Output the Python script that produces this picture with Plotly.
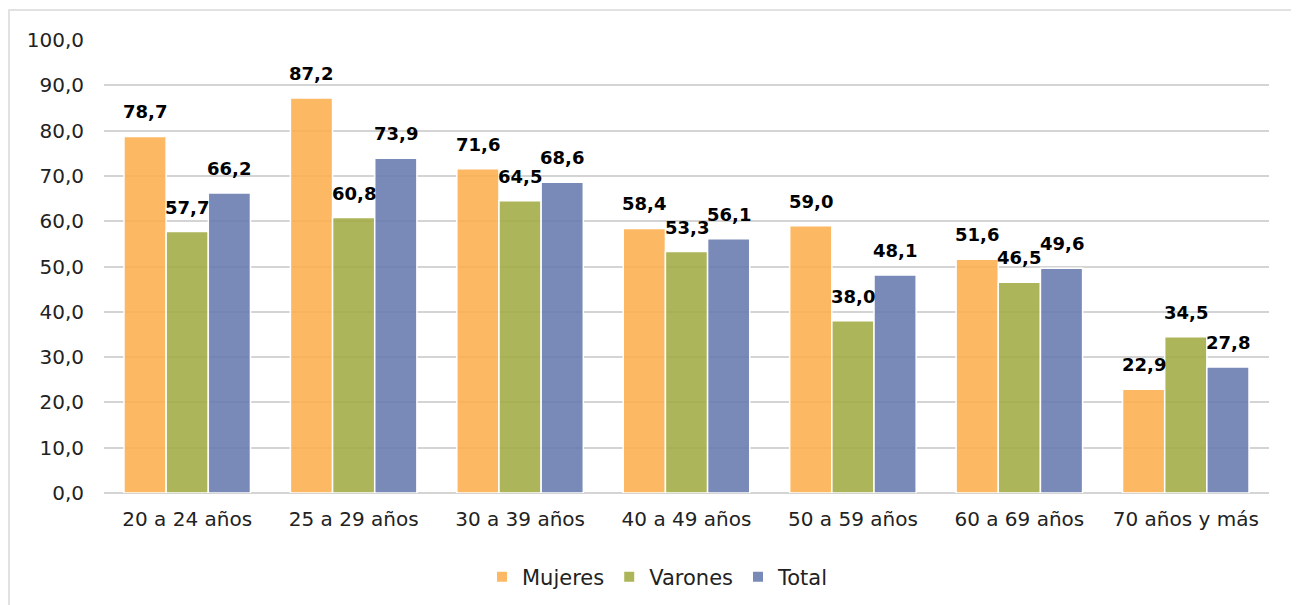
import plotly.graph_objects as go

categories = ["20 a 24 años", "25 a 29 años", "30 a 39 años", "40 a 49 años",
              "50 a 59 años", "60 a 69 años", "70 años y más"]
mujeres = [78.7, 87.2, 71.6, 58.4, 59.0, 51.6, 22.9]
varones = [57.7, 60.8, 64.5, 53.3, 38.0, 46.5, 34.5]
total = [66.2, 73.9, 68.6, 56.1, 48.1, 49.6, 27.8]
tick_vals = [0, 10, 20, 30, 40, 50, 60, 70, 80, 90, 100]

series = [("Mujeres", mujeres, "rgba(253,174,78,0.88)"),
          ("Varones", varones, "rgba(160,171,66,0.88)"),
          ("Total", total, "rgba(104,122,174,0.88)")]

def fmt(v):
    return f"{v:.1f}".replace(".", ",")

FONT = "DejaVu Sans, sans-serif"

W, H = 1299, 605
# page body has an 8px margin; compensate so the plot lands where the reference has it
ml, mr, mt, mb = 96, 38, 32, 120
pw, ph = W - ml - mr, H - mt - mb
bargap = 0.24
ncat = len(categories)
bar_w_px = (1 - bargap) / len(series) * pw / ncat

fig = go.Figure()
annotations = []
for i, (name, vals, color) in enumerate(series):
    fig.add_trace(go.Bar(
        x=categories, y=vals, name=name,
        marker=dict(color=color, line=dict(color="white", width=1.5)),
        textposition="none", hoverinfo="x+y+name",
    ))
    shift = (i - (len(series) - 1) / 2) * bar_w_px
    for c, v in zip(categories, vals):
        annotations.append(dict(
            x=c, y=v, xref="x", yref="y", text=fmt(v), showarrow=False,
            xanchor="center", yanchor="bottom", xshift=shift, yshift=12,
            font=dict(family=FONT, size=18, color="black", weight="bold"),
        ))

fig.update_layout(
    width=W, height=H,
    margin=dict(l=ml, r=mr, t=mt, b=mb, autoexpand=False),
    barmode="group", bargap=bargap, bargroupgap=0.0,
    plot_bgcolor="white", paper_bgcolor="white",
    font=dict(family=FONT, size=20, color="#222222"),
    separators=",.",
    showlegend=True,
    legend=dict(orientation="h", x=(650 - ml) / pw, xanchor="center",
                y=(H - mb - 569) / ph, yanchor="middle",
                font=dict(size=21), itemsizing="constant", traceorder="normal",
                itemwidth=30),
    yaxis=dict(range=[0, 100], tickvals=tick_vals, tickformat=".1f",
               showgrid=True, gridcolor="#D4D4D4", gridwidth=1.5,
               zeroline=True, zerolinecolor="#D4D4D4", zerolinewidth=1.5,
               showline=False, ticks="", ticklabelstandoff=19, automargin=False),
    xaxis=dict(showgrid=False, showline=False, ticks="", ticklabelstandoff=12,
               automargin=False),
    annotations=annotations,
    shapes=[dict(type="rect", xref="paper", yref="paper",
                 x0=(1 - ml) / pw, x1=(1285 - ml) / pw,
                 y0=(H - mb - 640) / ph, y1=(H - mb - 2) / ph,
                 line=dict(color="#D9D9D9", width=1.5), fillcolor="rgba(0,0,0,0)",
                 layer="below")],
)

fig.write_html("out.html")
